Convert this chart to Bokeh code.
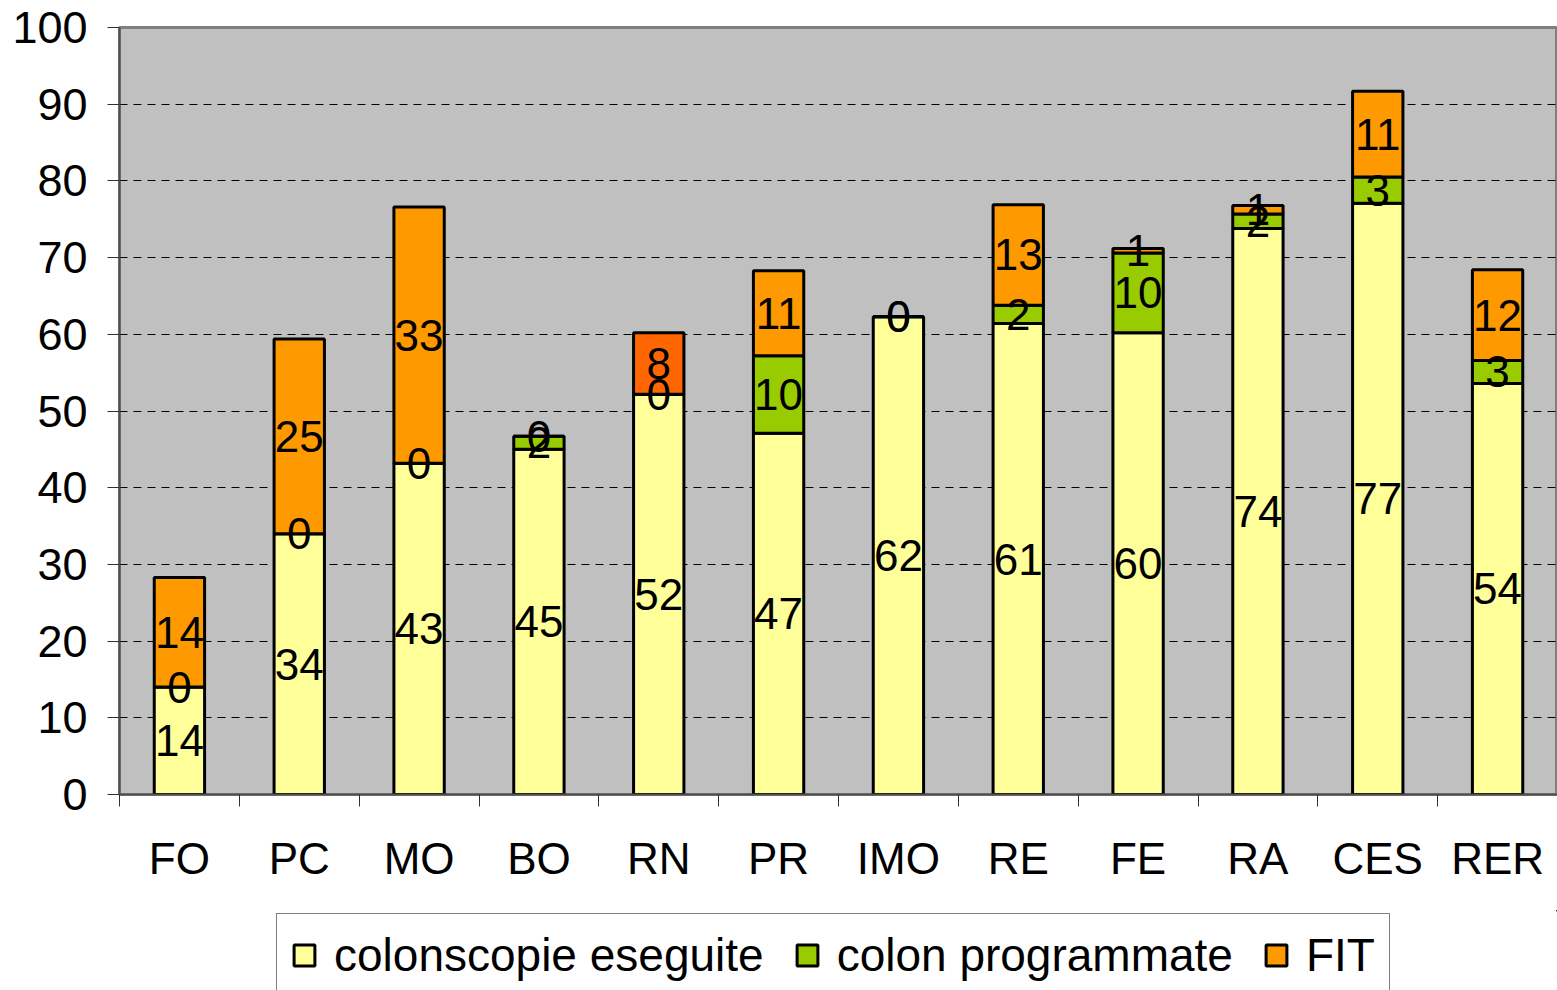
import numpy as np
from bokeh.plotting import figure
from bokeh.layouts import column
from bokeh.models import ColumnDataSource, FixedTicker, Legend, LegendItem, Range1d
from bokeh.core.properties import value
from bokeh.embed import file_html
from bokeh.resources import INLINE

categories = ["FO", "PC", "MO", "BO", "RN", "PR", "IMO", "RE", "FE", "RA", "CES", "RER"]
colonscopie_eseguite = [14.0, 34.0, 43.2, 45.0, 52.2, 47.1, 62.3, 61.4, 60.2, 73.8, 77.1, 53.6]
colon_programmate = [0.0, 0.0, 0.0, 1.7, 0.0, 10.1, 0.0, 2.4, 10.4, 1.9, 3.4, 3.0]
fit = [14.3, 25.4, 33.4, 0.0, 8.0, 11.1, 0.0, 13.1, 0.6, 1.1, 11.2, 11.8]
series_names = ["colonscopie eseguite", "colon programmate", "FIT"]
y_ticks = [0, 10, 20, 30, 40, 50, 60, 70, 80, 90, 100]

FONT = "Liberation Sans"
FS = "44px"
YELLOW, GREEN, ORANGE, ORANGE_RN = "#FFFF99", "#99CC00", "#FF9900", "#FF6600"

n = len(categories)
xs = np.arange(n) + 0.5
s1 = np.array(colonscopie_eseguite)
s2 = np.array(colon_programmate)
s3 = np.array(fit)
b1, t1 = np.zeros(n), s1
b2, t2 = t1, t1 + s2
b3, t3 = t2, t2 + s3

orange_colors = [ORANGE_RN if c == "RN" else ORANGE for c in categories]

src = ColumnDataSource(dict(x=xs, b1=b1, t1=t1, b2=b2, t2=t2, b3=b3, t3=t3, oc=orange_colors))

p = figure(frame_width=1438, frame_height=767, output_backend="svg", toolbar_location=None,
           x_range=Range1d(0, n), y_range=Range1d(0, 100))
p.min_border_left = 119
p.min_border_right = 0
p.min_border_top = 27
p.min_border_bottom = 116
p.background_fill_color = "#C0C0C0"
p.border_fill_color = "white"
p.outline_line_color = "#808080"
p.outline_line_width = 3

W = 0.42
p.vbar(x="x", bottom="b1", top="t1", width=W, source=src, fill_color=YELLOW,
       line_color="black", line_width=3)
p.vbar(x="x", bottom="b2", top="t2", width=W, source=src, fill_color=GREEN,
       line_color="black", line_width=3)
p.vbar(x="x", bottom="b3", top="t3", width=W, source=src, fill_color="oc",
       line_color="black", line_width=3)

# data labels (rounded values), centred in each segment
lx, ly, lt = [], [], []
for vals, bot in ((s1, b1), (s2, b2), (s3, b3)):
    for i in range(n):
        lx.append(xs[i])
        ly.append(bot[i] + vals[i] / 2)
        lt.append(str(int(round(vals[i]))))
lsrc = ColumnDataSource(dict(x=lx, y=ly, text=lt))
p.text(x="x", y="y", text="text", source=lsrc, text_align="center", text_baseline="middle",
       text_font=value(FONT), text_font_size=value(FS), text_color="black")

# grid
p.xgrid.visible = False
p.ygrid.ticker = FixedTicker(ticks=y_ticks[1:-1])
p.ygrid.grid_line_color = "black"
p.ygrid.grid_line_dash = "8 6"
p.ygrid.grid_line_width = 1

# y axis
p.yaxis.ticker = FixedTicker(ticks=y_ticks)
p.yaxis.major_label_text_font = FONT
p.yaxis.major_label_text_font_size = "45px"
p.yaxis.major_label_text_color = "black"
p.yaxis.major_tick_in = 0
p.yaxis.major_tick_out = 12
p.yaxis.minor_tick_line_color = None
p.yaxis.axis_line_color = "#505050"
p.yaxis.axis_line_width = 2
p.yaxis.major_tick_line_color = "#303030"
p.yaxis.major_label_standoff = 20

# x axis: labels at category centres, tick marks at boundaries
p.xaxis.ticker = FixedTicker(ticks=list(xs), minor_ticks=list(range(n + 1)))
p.xaxis.major_label_overrides = {float(x): c for x, c in zip(xs, categories)}
p.xaxis.major_tick_line_color = None
p.xaxis.major_tick_out = 0
p.xaxis.major_tick_in = 0
p.xaxis.minor_tick_in = 0
p.xaxis.minor_tick_out = 12
p.xaxis.minor_tick_line_color = "#303030"
p.xaxis.axis_line_color = "#505050"
p.xaxis.axis_line_width = 2
p.xaxis.major_label_text_font = FONT
p.xaxis.major_label_text_font_size = FS
p.xaxis.major_label_text_color = "black"
p.xaxis.major_label_standoff = 27

# legend in a separate strip below the chart
p2 = figure(width=1557, height=80, output_backend="svg", toolbar_location=None,
            x_axis_location=None, y_axis_location=None,
            x_range=Range1d(0, 1), y_range=Range1d(0, 1))
p2.min_border = 0
p2.outline_line_color = None
p2.grid.visible = False
p2.background_fill_color = "white"
p2.border_fill_color = "white"
# legend-only renderers, placed outside the visible range
lr = [p2.vbar(x=[5], top=[5], bottom=[4], width=0.1, fill_color=c, line_color="black",
              line_width=3)
      for c in (YELLOW, GREEN, ORANGE)]
legend = Legend(items=[LegendItem(label=nm, renderers=[r]) for nm, r in zip(series_names, lr)],
                orientation="horizontal", location=(157, -7))
legend.label_text_font = FONT
legend.label_text_font_size = "46px"
legend.label_text_color = "black"
legend.glyph_width = 26
legend.glyph_height = 26
legend.label_standoff = 17
legend.spacing = 30
legend.padding = 14
legend.margin = 0
legend.border_line_color = "black"
legend.border_line_width = 1
legend.background_fill_color = "white"
legend.background_fill_alpha = 1
p2.add_layout(legend, "center")

layout = column(p, p2, spacing=0)
open("out.html", "w").write(file_html(layout, INLINE))
